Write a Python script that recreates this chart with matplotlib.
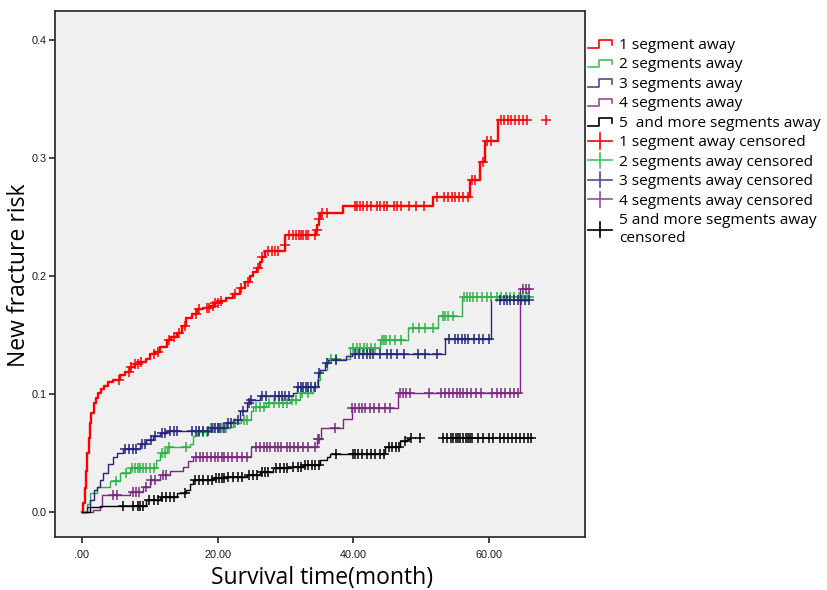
import numpy as np
import matplotlib
matplotlib.use("Agg")
import matplotlib.pyplot as plt
from matplotlib.legend_handler import HandlerBase
from matplotlib.lines import Line2D
from matplotlib.ticker import FuncFormatter

TEXT_FONT = ["Open Sans", "DejaVu Sans"]

# step curves: event time (month) and cumulative risk after the event
red_t = [0, 0.2, 0.4, 0.6, 0.8, 1.0, 1.2, 1.4, 1.7, 2.0, 2.4, 2.8, 3.3, 3.9, 4.6, 5.6,
         6.3, 7.1, 7.8, 8.6, 9.5, 10.0, 10.8, 11.5, 12.5, 13.2, 14.0, 14.7, 15.4, 16.2,
         16.9, 17.9, 18.9, 19.6, 20.3, 21.3, 22.3, 23.3, 24.1, 24.8, 25.3, 25.8, 26.2,
         26.5, 27.0, 29.9, 30.0, 34.5, 34.7, 34.9, 35.1, 38.5, 51.8, 57.2, 58.7, 59.4, 61.4]
red_f = [0, 0.008, 0.02, 0.035, 0.05, 0.063, 0.075, 0.084, 0.092, 0.097, 0.101, 0.104,
         0.107, 0.110, 0.112, 0.116, 0.119, 0.123, 0.125, 0.127, 0.130, 0.134, 0.136,
         0.140, 0.146, 0.148, 0.152, 0.158, 0.164, 0.168, 0.172, 0.173, 0.175, 0.177,
         0.179, 0.181, 0.185, 0.190, 0.195, 0.200, 0.203, 0.207, 0.212, 0.216, 0.221,
         0.226, 0.235, 0.239, 0.243, 0.248, 0.253, 0.259, 0.267, 0.281, 0.297, 0.314, 0.332]
red_c = [5.4, 6.9, 7.3, 7.8, 8.2, 8.7, 10.6, 11.2, 12.9, 13.6, 14.3, 15.2, 16.8, 17.3,
         18.4, 18.8, 19.3, 19.6, 20.0, 20.5, 22.6, 23.5, 24.5, 25.9, 26.6, 27.5, 28.0,
         28.4, 28.9, 29.9, 30.6, 31.1, 31.6, 32.0, 32.3, 32.6, 33.0, 33.4, 34.3, 34.6,
         35.0, 35.4, 36.2, 40.2, 40.6, 41.0, 41.5, 42.0, 42.6, 43.5, 44.0, 44.6, 45.0,
         46.0, 46.5, 47.0, 48.2, 49.3, 50.4, 52.4, 53.4, 54.0, 54.6, 55.0, 55.6, 56.2,
         57.0, 57.6, 58.0, 59.2, 59.7, 60.3, 61.8, 62.3, 62.8, 63.3, 63.9, 64.4, 65.0,
         65.6, 68.5]

green_t = [0, 0.7, 1.2, 2.2, 4.1, 5.6, 7.1, 10.9, 11.5, 12.5, 15.9, 16.4, 16.9, 18.9,
           21.8, 22.3, 23.5, 25.0, 25.2, 27.2, 30.7, 32.1, 34.1, 34.6, 35.1, 36.1, 36.6,
           39.5, 43.9, 48.1, 52.5, 56.0]
green_f = [0, 0.007, 0.016, 0.021, 0.026, 0.033, 0.037, 0.044, 0.050, 0.055, 0.058,
           0.064, 0.068, 0.071, 0.072, 0.075, 0.078, 0.086, 0.089, 0.092, 0.095, 0.101,
           0.106, 0.112, 0.120, 0.126, 0.130, 0.139, 0.146, 0.156, 0.166, 0.182]
green_c = [5.0, 6.5, 7.4, 7.8, 8.2, 8.6, 9.0, 9.5, 10.0, 10.6, 11.8, 12.2, 12.9, 15.4,
           17.3, 17.8, 18.4, 19.0, 19.5, 20.1, 20.6, 21.2, 22.6, 23.9, 24.3, 25.6, 26.2,
           26.8, 27.6, 28.3, 29.0, 29.6, 30.2, 31.0, 31.5, 32.5, 33.4, 34.4, 36.8, 37.4,
           40.0, 40.5, 41.0, 41.6, 42.1, 42.6, 43.2, 44.2, 44.5, 44.9, 45.5, 46.2, 47.1,
           48.8, 49.7, 50.6, 51.8, 53.2, 53.6, 54.0, 54.8, 56.3, 56.8, 57.2, 57.7, 58.3,
           59.0, 59.7, 60.4, 61.2, 61.8, 62.5, 63.2, 63.8, 64.4, 65.0, 65.6, 66.0]

blue_t = [0, 0.7, 1.2, 1.7, 2.2, 2.65, 3.1, 3.9, 4.6, 5.1, 6.1, 8.55, 9.5, 10.5, 11.5,
          12.5, 18.9, 21.3, 22.3, 23.3, 24.3, 24.8, 26.2, 31.2, 31.7, 34.8, 35.1, 35.8,
          36.3, 39.0, 39.8, 53.5, 60.4]
blue_f = [0, 0.0045, 0.010, 0.019, 0.021, 0.027, 0.033, 0.041, 0.047, 0.050, 0.053,
          0.058, 0.061, 0.064, 0.067, 0.069, 0.071, 0.075, 0.078, 0.086, 0.092, 0.095,
          0.098, 0.101, 0.106, 0.118, 0.120, 0.126, 0.129, 0.132, 0.134, 0.147, 0.180]
blue_c = [6.4, 7.0, 7.5, 8.0, 8.9, 9.3, 10.2, 10.8, 11.8, 12.3, 13.0, 13.5, 14.0, 16.3,
          16.8, 17.3, 17.8, 18.6, 19.2, 19.6, 20.0, 20.4, 20.9, 21.6, 22.0, 23.0, 23.8,
          24.6, 25.0, 26.6, 27.1, 28.4, 29.0, 29.5, 30.0, 30.5, 31.9, 32.3, 32.6, 33.0,
          33.4, 33.8, 34.4, 35.0, 36.1, 37.4, 40.2, 40.8, 41.4, 42.0, 42.5, 43.0, 44.0,
          45.0, 45.6, 46.4, 47.5, 49.6, 50.6, 52.3, 54.2, 55.0, 55.5, 56.0, 56.5, 57.0,
          57.8, 58.5, 59.2, 60.0, 61.6, 62.2, 62.7, 63.2, 63.8, 64.3, 64.8, 65.4, 66.0]

purple_t = [0, 1.67, 2.65, 2.9, 7.1, 9.0, 10.0, 11.5, 13.0, 14.9, 15.7, 16.4, 25.0,
            34.6, 35.3, 38.5, 39.8, 46.6, 64.6]
purple_f = [0, 0.002, 0.0045, 0.014, 0.017, 0.021, 0.027, 0.031, 0.035, 0.038, 0.043,
            0.047, 0.055, 0.062, 0.071, 0.079, 0.088, 0.101, 0.189]
purple_c = [4.6, 5.1, 7.5, 8.0, 8.4, 9.4, 10.2, 10.7, 11.9, 12.4, 16.8, 17.4, 17.9, 18.5,
            19.0, 19.6, 20.1, 20.6, 21.0, 21.5, 22.2, 22.9, 23.6, 24.3, 25.6, 26.2, 26.8,
            27.3, 27.8, 28.4, 28.9, 29.4, 30.2, 30.7, 31.3, 31.9, 32.6, 33.3, 34.4, 34.8,
            35.0, 37.3, 39.9, 40.3, 40.8, 41.3, 41.8, 42.5, 43.1, 43.8, 44.7, 45.5, 46.9,
            47.3, 47.8, 48.4, 51.2, 52.9, 53.6, 54.2, 54.8, 55.3, 55.7, 56.2, 56.8, 57.4,
            58.1, 58.9, 60.5, 61.2, 61.8, 62.4, 63.1, 63.8, 64.3, 65.0, 65.5, 66.0]

black_t = [0, 1.2, 2.65, 9.5, 11.5, 14.0, 15.4, 15.9, 16.4, 19.4, 21.3, 24.3, 26.2, 28.2,
           30.7, 32.6, 35.1, 36.1, 36.6, 44.7, 46.9, 47.9, 48.4]
black_f = [0, 0.0045, 0.0053, 0.010, 0.013, 0.016, 0.019, 0.024, 0.027, 0.029, 0.030,
           0.031, 0.034, 0.037, 0.038, 0.040, 0.044, 0.047, 0.049, 0.055, 0.060, 0.062, 0.063]
black_c = [6.0, 7.5, 8.2, 8.6, 9.0, 9.9, 10.6, 11.2, 11.8, 12.4, 13.0, 13.6, 15.2, 16.6,
           17.2, 17.9, 18.6, 19.2, 19.8, 20.2, 20.6, 21.0, 21.6, 22.3, 23.0, 23.6, 24.6,
           25.2, 25.8, 26.5, 27.0, 27.5, 28.6, 29.2, 29.8, 30.3, 31.2, 31.8, 32.3, 32.9,
           33.4, 33.9, 34.4, 34.9, 37.5, 40.0, 40.3, 40.7, 41.3, 42.0, 42.6, 43.2, 44.0,
           44.6, 45.3, 45.8, 46.3, 46.8, 47.6, 48.5, 49.8, 53.2, 53.8, 54.4, 54.8, 55.1,
           55.4, 55.8, 56.2, 56.6, 57.0, 57.3, 57.6, 58.4, 59.1, 60.0, 60.7, 61.6, 62.3,
           62.8, 63.4, 64.0, 64.6, 65.2, 65.8, 66.3]

names = ["1 segment away", "2 segments away", "3 segments away", "4 segments away",
         "5  and more segments away"]
cens_names = ["1 segment away censored", "2 segments away censored",
              "3 segments away censored", "4 segments away censored",
              "5 and more segments away\ncensored"]
colors = ["#ff0000", "#2fb24a", "#25257e", "#7a2a7e", "#000000"]
legend_colors = ["#ff0000", "#3cc35a", "#4a4a9c", "#9a4aa0", "#000000"]
widths = [1.7, 1.0, 1.0, 1.0, 1.0]

groups = [(red_t, red_f, red_c), (green_t, green_f, green_c), (blue_t, blue_f, blue_c),
          (purple_t, purple_f, purple_c), (black_t, black_f, black_c)]


class StepHandler(HandlerBase):
    def create_artists(self, legend, orig, xd, yd, w, h, fontsize, trans):
        xs = np.array([0.0, 0.45, 0.45, 1.0, 1.0]) * w - xd
        ys = np.array([0.1, 0.1, 0.8, 0.8, 0.4]) * h - yd
        ln = Line2D(xs, ys, color=orig.get_color(), lw=1.2)
        ln.set_transform(trans)
        return [ln]


class CrossHandler(HandlerBase):
    def create_artists(self, legend, orig, xd, yd, w, h, fontsize, trans):
        hl = Line2D(np.array([0.0, 1.0]) * w - xd, np.array([0.5, 0.5]) * h - yd,
                    color=orig.get_color(), lw=1.2)
        vl = Line2D(np.array([0.5, 0.5]) * w - xd, np.array([-0.2, 1.2]) * h - yd,
                    color=orig.get_color(), lw=1.2)
        hl.set_transform(trans)
        vl.set_transform(trans)
        return [hl, vl]


fig = plt.figure(figsize=(8.27, 5.90), dpi=100)
ax = fig.add_axes([55 / 827, 1 - 537 / 590, 530 / 827, 526 / 590])
ax.set_facecolor("#f0f0f0")

for (t, f, c), col, lw in zip(groups, colors, widths):
    t = np.array(t)
    f = np.array(f)
    c = np.array(c)
    ax.step(t, f, where="post", color=col, lw=lw, zorder=3)
    # risk level at each censored time
    cy = f[np.searchsorted(t, c, side="right") - 1]
    ax.plot(c, cy, ls="none", marker="+", ms=6.5, mew=1.1, color=col, zorder=4)

ax.set_xlim(-3.98, 74.2)
ax.set_ylim(-0.0212, 0.4246)
ax.set_xticks([0, 20, 40, 60])
ax.set_yticks([0.0, 0.1, 0.2, 0.3, 0.4])
ax.xaxis.set_major_formatter(FuncFormatter(lambda v, p: ".00" if v == 0 else f"{v:.2f}"))
ax.yaxis.set_major_formatter(FuncFormatter(lambda v, p: f"{v:.1f}"))
ax.tick_params(direction="out", length=4.5, width=1.2, colors="#222222", labelsize=7.8,
               labelcolor="#1a1a1a", pad=1.5)
ax.tick_params(axis="x", pad=5)
for lab in ax.get_xticklabels() + ax.get_yticklabels():
    lab.set_family(["Liberation Sans", "DejaVu Sans"])
for s in ax.spines.values():
    s.set_color("#333333")
    s.set_linewidth(1.3)

fig.text(322 / 827, 1 - 578 / 590, "Survival time(month)", fontsize=16.5, family=TEXT_FONT,
         ha="center", va="center")
fig.text(19 / 827, 1 - 275 / 590, "New fracture risk", fontsize=16.5, family=TEXT_FONT,
         ha="center", va="center", rotation=90)

handles = []
for col, name in zip(legend_colors, names):
    handles.append(Line2D([], [], color=col, label=name))
cross = []
for col, name in zip(legend_colors, cens_names):
    cross.append(Line2D([], [], color=col, label=name))
hmap = {h: StepHandler() for h in handles}
hmap.update({h: CrossHandler() for h in cross})

leg = fig.legend(handles=handles + cross, loc="upper left",
                 bbox_to_anchor=(588 / 827, 1 - 38 / 590), frameon=False,
                 handler_map=hmap, handlelength=1.55, handleheight=0.7,
                 handletextpad=0.45, labelspacing=0.29, borderaxespad=0, borderpad=0,
                 prop={"family": TEXT_FONT, "size": 11.1})
for txt in leg.get_texts():
    txt.set_linespacing(1.27)

fig.savefig("out.png", dpi=100, facecolor="white")
